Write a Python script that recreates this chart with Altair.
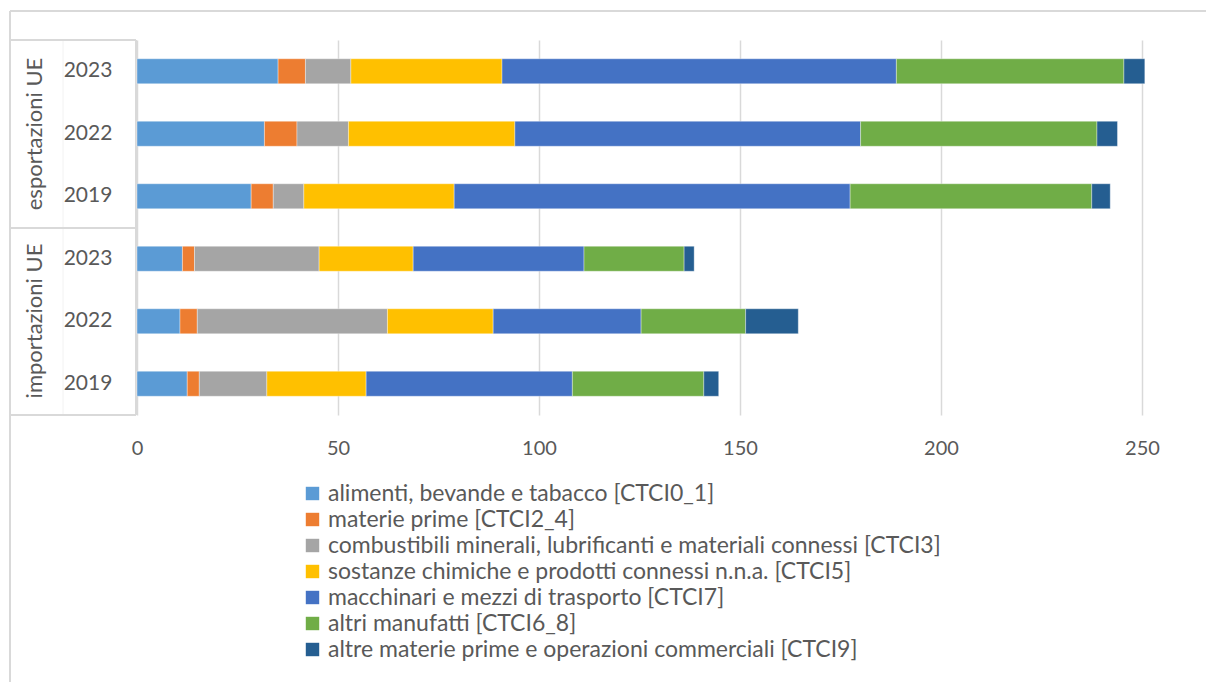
import altair as alt
import pandas as pd

# Trade flows with the EU by product group (bn), stacked per year
groups = ["esportazioni UE", "importazioni UE"]
years = ["2023", "2022", "2019"]

categories = [
    "alimenti, bevande e tabacco [CTCI0_1]",
    "materie prime [CTCI2_4]",
    "combustibili minerali, lubrificanti e materiali connessi [CTCI3]",
    "sostanze chimiche e prodotti connessi n.n.a. [CTCI5]",
    "macchinari e mezzi di trasporto [CTCI7]",
    "altri manufatti [CTCI6_8]",
    "altre materie prime e operazioni commerciali [CTCI9]",
]
colors = ["#5B9BD5", "#ED7D31", "#A5A5A5", "#FFC000", "#4472C4", "#70AD47", "#255E91"]

# one list per bar, in category order
export_2023 = [35.1, 6.8, 11.3, 37.6, 98.1, 56.6, 5.2]
export_2022 = [31.7, 8.1, 12.8, 41.4, 86.0, 58.8, 5.1]
export_2019 = [28.4, 5.5, 7.6, 37.4, 98.5, 60.1, 4.6]
import_2023 = [11.3, 3.0, 31.0, 23.4, 42.5, 24.9, 2.5]
import_2022 = [10.7, 4.3, 47.3, 26.3, 36.8, 26.0, 13.1]
import_2019 = [12.5, 3.0, 16.8, 24.7, 51.3, 32.7, 3.7]

x_ticks = [0, 50, 100, 150, 200, 250]

series = {
    ("esportazioni UE", "2023"): export_2023,
    ("esportazioni UE", "2022"): export_2022,
    ("esportazioni UE", "2019"): export_2019,
    ("importazioni UE", "2023"): import_2023,
    ("importazioni UE", "2022"): import_2022,
    ("importazioni UE", "2019"): import_2019,
}

rows = []
row_keys = []
for g in groups:
    for y in years:
        key = f"{g} {y}"
        row_keys.append(key)
        for i, (cat, v) in enumerate(zip(categories, series[(g, y)])):
            rows.append({"row": key, "group": g, "year": y, "cat": cat, "idx": i, "value": v})
df = pd.DataFrame(rows)
labels_df = pd.DataFrame({"row": row_keys, "year": [k.split(" ")[-1] for k in row_keys]})

FONT = "Lato"
GREY_TXT = "#595959"
LINE = "#D9D9D9"
W, H = 1005, 375

y_enc = alt.Y("row:N", sort=row_keys, axis=None,
              scale=alt.Scale(paddingInner=0.6, paddingOuter=0.3))

bars = alt.Chart(df).mark_bar(stroke="#FFFFFF", strokeWidth=0.6, strokeOpacity=0.6).encode(
    x=alt.X("value:Q", stack="zero",
            scale=alt.Scale(domain=[0, 250], nice=False),
            axis=alt.Axis(values=x_ticks, title=None, domain=False, ticks=False,
                          grid=True, gridColor=LINE, gridWidth=1.5,
                          labelFont=FONT, labelFontSize=20, labelColor=GREY_TXT,
                          labelFlush=False, labelPadding=23)),
    y=y_enc,
    color=alt.Color("cat:N", sort=categories,
                    scale=alt.Scale(domain=categories, range=colors),
                    legend=alt.Legend(title=None, orient="none", legendX=164, legendY=442,
                                      direction="vertical", symbolType="square",
                                      symbolSize=180, symbolStrokeWidth=0,
                                      labelFont=FONT, labelFontSize=23, labelOffset=4,
                                      labelColor=GREY_TXT, rowPadding=2,
                                      labelLimit=900, symbolOffset=0, padding=0)),
    order=alt.Order("idx:Q", sort="ascending"),
)

year_text = alt.Chart(labels_df).mark_text(
    font=FONT, fontSize=21, color=GREY_TXT, align="center", baseline="middle"
).encode(y=y_enc, x=alt.value(-49), text="year:N")

group_df = pd.DataFrame({"group": groups, "yc": [94, 281]})
group_text = alt.Chart(group_df).mark_text(
    font=FONT, fontSize=22, color=GREY_TXT, align="center", baseline="middle", angle=270
).encode(x=alt.value(-102), y=alt.Y("yc:Q", scale=None), text="group:N")

# chart frame and the label table around the category axis
hlines = pd.DataFrame({
    "x1": [-127, -127, -127, -127],
    "x2": [1069, -1, -1, -1],
    "yy": [-29, 0, 188, 375],
})
vlines = pd.DataFrame({
    "xx": [-127, -1],
    "y1": [-29, 0],
    "y2": [642, 375],
})
h_rules = alt.Chart(hlines).mark_rule(color=LINE, strokeWidth=2).encode(
    x=alt.X("x1:Q", scale=None), x2="x2:Q", y=alt.Y("yy:Q", scale=None))
v_rules = alt.Chart(vlines).mark_rule(color=LINE, strokeWidth=2).encode(
    x=alt.X("xx:Q", scale=None), y=alt.Y("y1:Q", scale=None), y2="y2:Q")
# faint divider between the group column and the year column
divider = alt.Chart(pd.DataFrame({"xx": [-74], "y1": [0], "y2": [375]})).mark_rule(
    color="#F2F2F2", strokeWidth=1).encode(
    x=alt.X("xx:Q", scale=None), y=alt.Y("y1:Q", scale=None), y2="y2:Q")

chart = alt.layer(divider, h_rules, v_rules, bars, year_text, group_text).resolve_scale(
    x="independent", y="independent"
).properties(
    width=W, height=H,
    autosize=alt.AutoSizeParams(type="none"),
    padding={"left": 137, "top": 40, "right": 64, "bottom": 267},
    background="#FFFFFF",
).configure_view(stroke=None)

chart.save("out.html", embed_options={"renderer": "svg", "actions": False})
